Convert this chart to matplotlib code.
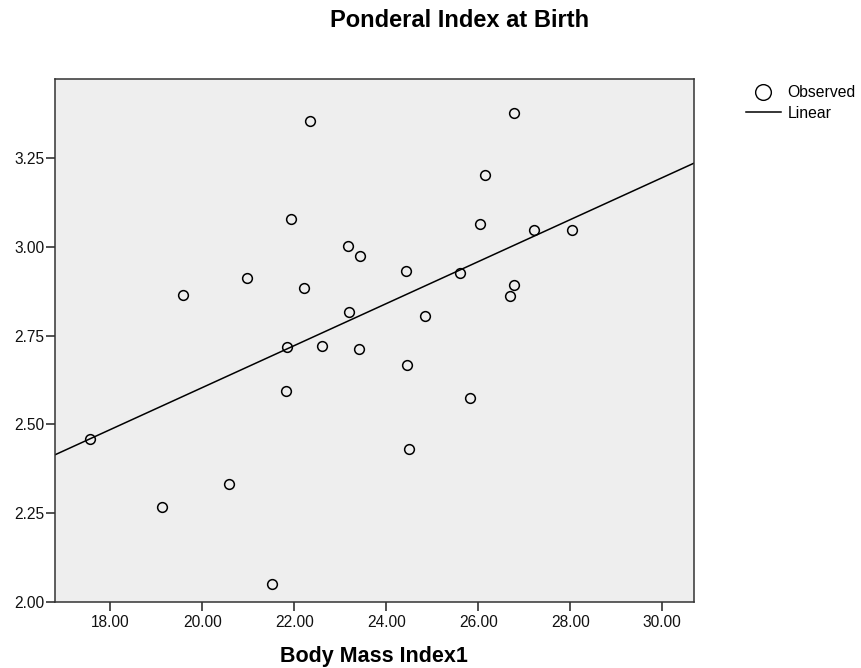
#!/usr/bin/env python3
"""
Ponderal index at birth vs. body mass index, with a linear fit
(SPSS-style curve estimation plot).
"""

import numpy as np
import matplotlib
matplotlib.use('Agg')  # no display
import matplotlib.pyplot as plt
from matplotlib.lines import Line2D

bmi = [17.56, 19.12, 19.59, 20.59, 20.97, 21.52, 21.82, 21.84, 21.92, 22.22,
       22.34, 22.60, 23.17, 23.20, 23.42, 23.44, 24.43, 24.45, 24.49, 24.84,
       25.61, 25.83, 26.04, 26.15, 26.70, 26.79, 26.79, 27.22, 28.04]
ponderal = [2.458, 2.268, 2.865, 2.332, 2.912, 2.049, 2.593, 2.717, 3.080, 2.885,
            3.355, 2.721, 3.003, 2.817, 2.711, 2.975, 2.932, 2.668, 2.431, 2.806,
            2.928, 2.575, 3.065, 3.203, 2.863, 3.377, 2.894, 3.049, 3.047]

x_ticks = [18, 20, 22, 24, 26, 28, 30]
y_ticks = [2.00, 2.25, 2.50, 2.75, 3.00, 3.25]

plt.rcParams['font.family'] = ['Liberation Sans', 'DejaVu Sans']

W, H = 862, 668
fig = plt.figure(figsize=(W / 100, H / 100), dpi=100)
ax = fig.add_axes([55.5 / W, 1 - 601.7 / H, (694.3 - 55.5) / W, (601.7 - 79) / H])
ax.set_facecolor('#eeeeee')

x_lim = (16.81, 30.70)
ax.set_xlim(*x_lim)
ax.set_ylim(2.00, 3.4735)

# linear fit, drawn across the whole axis
slope, intercept = np.polyfit(bmi, ponderal, 1)
xs = np.array(x_lim)
ax.plot(xs, intercept + slope * xs, color='black', lw=1.1, zorder=2)

ax.plot(bmi, ponderal, linestyle='none', marker='o', ms=7,
        mfc='none', mec='black', mew=1.1, zorder=3)

ax.set_xticks(x_ticks)
ax.set_xticklabels([f'{v:.2f}' for v in x_ticks])
ax.set_yticks(y_ticks)
ax.set_yticklabels([f'{v:.2f}' for v in y_ticks])
ax.tick_params(axis='both', direction='out', length=6.5, width=1.1,
               color='#222222', labelsize=11.2, labelcolor='#111111')
ax.tick_params(axis='y', pad=1.5)
ax.tick_params(axis='x', pad=3)
for s in ax.spines.values():
    s.set_color('#333333')
    s.set_linewidth(1.1)

fig.text(460 / W, 1 - 27.3 / H, 'Ponderal Index at Birth', ha='center',
         va='baseline', fontsize=17, fontweight='bold')
fig.text(374 / W, 1 - 662 / H, 'Body Mass Index1', ha='center',
         va='baseline', fontsize=15.5, fontweight='bold')

handles = [
    Line2D([], [], linestyle='none', marker='o', ms=11.3, mfc='none',
           mec='black', mew=1.0),
    Line2D([], [], color='black', lw=1.1),
]
fig.legend(handles, ['Observed', 'Linear'], loc='upper left',
           bbox_to_anchor=(746 / W, 1 - 85.2 / H), bbox_transform=fig.transFigure,
           frameon=False, fontsize=11.3, borderpad=0, borderaxespad=0,
           handlelength=2.23, handletextpad=0.42, labelspacing=0.35)

fig.savefig('out.png', dpi=100)
